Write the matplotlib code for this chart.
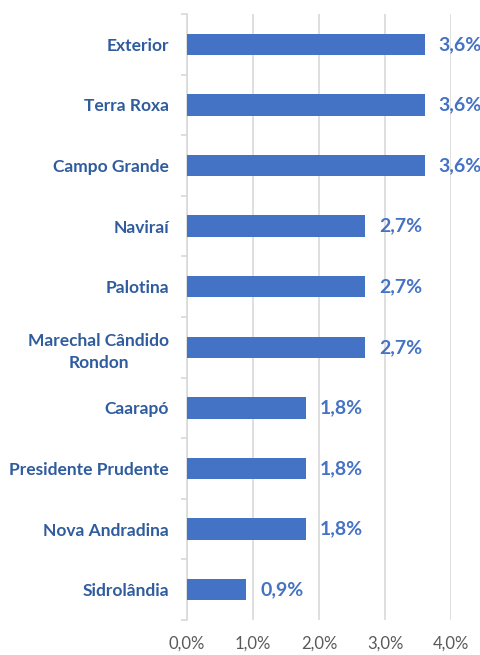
import matplotlib
matplotlib.use("Agg")
import matplotlib.pyplot as plt

# data, top to bottom
cidades = ["Exterior", "Terra Roxa", "Campo Grande", "Naviraí", "Palotina",
           "Marechal Cândido\nRondon", "Caarapó", "Presidente Prudente",
           "Nova Andradina", "Sidrolândia"]
percentuais = [3.6, 3.6, 3.6, 2.7, 2.7, 2.7, 1.8, 1.8, 1.8, 0.9]
ticks_x = [0, 1, 2, 3, 4]

plt.rcParams["font.family"] = ["Lato", "DejaVu Sans"]

fig = plt.figure(figsize=(4.81, 6.55), dpi=100)
ax = fig.add_axes([187 / 481, 1 - 620 / 655, 264 / 481, 606 / 655])

pos = list(range(len(cidades)))
ax.barh(pos, percentuais, height=0.35, color="#4472C4", zorder=3)

# value labels
for y, v in zip(pos, percentuais):
    ax.annotate(f"{v:.1f}%".replace(".", ","), (v, y), xytext=(10, 0),
                textcoords="offset points", va="center", ha="left",
                fontsize=14, fontweight="bold", color="#4472C4")

ax.set_xlim(0, 4)
ax.set_ylim(len(cidades) - 0.5, -0.5)
ax.set_xticks(ticks_x)
ax.set_xticklabels([f"{t:.1f}%".replace(".", ",") for t in ticks_x],
                   fontsize=12, color="#595959")
ax.tick_params(axis="x", length=0, pad=11)

ax.set_yticks([p - 0.5 for p in pos] + [len(cidades) - 0.5], minor=True)
ax.set_yticks(pos)
ax.set_yticklabels(cidades, fontsize=12.5, fontweight="bold", color="#2F5C9E",
                   ha="right", multialignment="center", linespacing=1.45)
ax.tick_params(axis="y", which="major", length=0, pad=13)
ax.tick_params(axis="y", which="minor", length=4, color="#D9D9D9", width=1.2)

ax.grid(axis="x", color="#D9D9D9", linewidth=1.2, zorder=0)
for s in ["top", "right", "bottom"]:
    ax.spines[s].set_visible(False)
ax.spines["left"].set_color("#D9D9D9")
ax.spines["left"].set_linewidth(1.2)

fig.savefig("out.png", dpi=100)
